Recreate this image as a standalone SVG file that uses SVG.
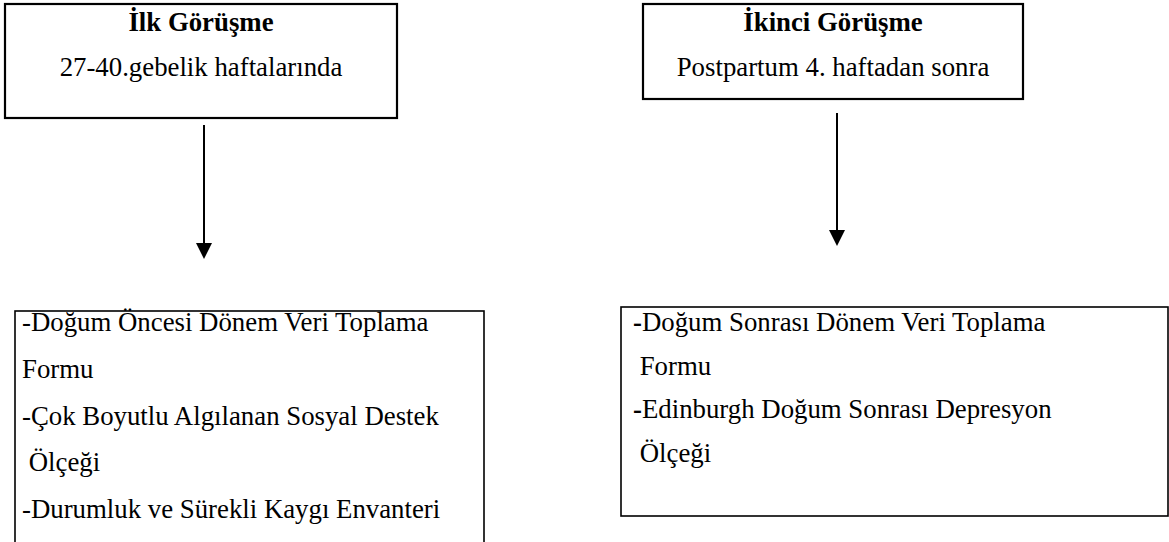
<svg xmlns="http://www.w3.org/2000/svg" width="1169" height="542" viewBox="0 0 1169 542">
<style>
text{font-size:26.8px;fill:#000}
.b{font-weight:bold}
.box{fill:#fff;stroke:#000;stroke-width:2.2}
.bx2{fill:#fff;stroke:#000;stroke-width:1.6}
.c{text-anchor:middle}
.conn{stroke:#000;stroke-width:2;fill:none}
</style>
<rect width="1169" height="542" fill="#fff"/>
<g font-family="Liberation Serif, Tinos, Times New Roman, DejaVu Serif, serif">
<g id="node-ilk">
<rect class="box" x="5" y="4" width="392" height="114"/>
<text class="b c" x="201" y="31">İlk Görüşme</text>
<text class="c" x="201" y="76">27-40.gebelik haftalarında</text>
</g>
<g id="node-ikinci">
<rect class="box" x="643" y="4" width="380" height="95"/>
<text class="b c" x="833" y="31">İkinci Görüşme</text>
<text class="c" x="833" y="76">Postpartum 4. haftadan sonra</text>
</g>
<g id="node-dogum-oncesi">
<rect class="bx2" x="15" y="311" width="469" height="250"/>
<text x="22" y="331">-Doğum Öncesi Dönem Veri Toplama</text>
<text x="22" y="378">Formu</text>
<text x="22" y="425">-Çok Boyutlu Algılanan Sosyal Destek</text>
<text x="22" y="471" xml:space="preserve"> Ölçeği</text>
<text x="22" y="518">-Durumluk ve Sürekli Kaygı Envanteri</text>
</g>
<g id="node-dogum-sonrasi">
<rect class="bx2" x="621" y="307" width="547" height="209"/>
<text x="633" y="331"><tspan class="b">-</tspan>Doğum Sonrası Dönem Veri Toplama</text>
<text x="633" y="375" xml:space="preserve"> Formu</text>
<text x="633" y="418"><tspan class="b">-</tspan>Edinburgh Doğum Sonrası Depresyon</text>
<text x="633" y="462" xml:space="preserve"> Ölçeği</text>
</g>
</g>
<g id="connectors">
<line class="conn" x1="204" y1="125" x2="204" y2="245"/>
<path d="M196,243 L212,243 L204,259 Z" fill="#000"/>
<line class="conn" x1="837" y1="113" x2="837" y2="232"/>
<path d="M829,230 L845,230 L837,246 Z" fill="#000"/>
</g>
</svg>
